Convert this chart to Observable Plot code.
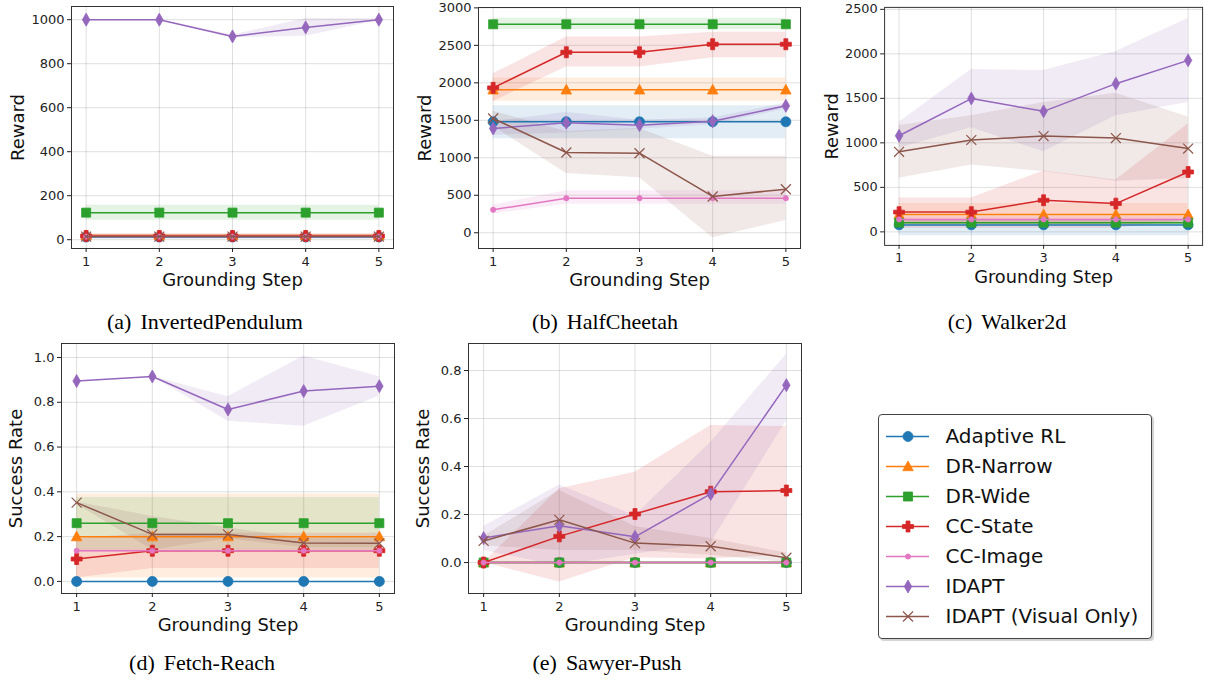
<!DOCTYPE html>
<html><head><meta charset="utf-8">
<script src="https://cdn.jsdelivr.net/npm/d3@7"></script>
<script src="https://cdn.jsdelivr.net/npm/@observablehq/plot@0.6"></script>
<style>
body{margin:0;background:#fff;}
#root{position:relative;width:1210px;height:681px;overflow:hidden;background:#fff;}
.panel{position:absolute;}
.cap{position:absolute;font-family:"Liberation Serif","Times New Roman",serif;font-size:22px;color:#000;transform:translate(-50%,-50%);white-space:nowrap;}
.cap span{margin-right:9px;}
.legend{position:absolute;border:1px solid #444;border-radius:4px;box-shadow:2px 2px 1px rgba(0,0,0,0.18);background:#fff;}
</style></head><body><div id="root"></div>
<script>
// ---------- data ----------
const steps = [1, 2, 3, 4, 5];
const seriesNames = ["Adaptive RL", "DR-Narrow", "DR-Wide", "CC-State", "CC-Image", "IDAPT", "IDAPT (Visual Only)"];
const seriesColors = ["#1f77b4", "#ff7f0e", "#2ca02c", "#d62728", "#e377c2", "#9467bd", "#8c564b"];

// InvertedPendulum (rows follow seriesNames)
const pendulumMean = [[12,12,12,12,12],[19,19,19,19,19],[123,123,123,123,123],[17,17,17,17,17],[14,14,14,14,14],[1000,1000,924,965,1000],[14,14,14,14,14]];
const pendulumLo   = [[2,2,2,2,2],[12,12,12,12,12],[88,88,88,88,88],[8,8,8,8,8],[10,10,10,10,10],[1000,1000,918,925,996],[6,6,6,6,6]];
const pendulumHi   = [[22,22,22,22,22],[26,26,26,26,26],[157,157,157,157,157],[26,26,26,26,26],[18,18,18,18,18],[1000,1000,930,1005,1004],[22,22,22,22,22]];

// HalfCheetah
const cheetahMean = [[1480,1480,1480,1480,1480],[1907,1907,1907,1907,1907],[2781,2781,2781,2781,2781],[1933,2408,2408,2515,2515],[307,461,461,461,461],[1391,1467,1435,1488,1693],[1524,1071,1061,484,581]];
const cheetahLo   = [[1255,1255,1255,1255,1255],[1755,1755,1755,1755,1755],[2710,2710,2710,2710,2710],[1750,2210,2210,2335,2335],[250,380,380,380,380],[1300,1330,1380,1440,1650],[1420,790,733,-67,164]];
const cheetahHi   = [[1695,1695,1695,1695,1695],[2065,2065,2065,2065,2065],[2860,2860,2860,2860,2860],[2120,2610,2610,2675,2675],[370,560,560,560,560],[1480,1605,1500,1530,1730],[1620,1350,1390,1021,1021]];

// Walker2d
const walkerMean = [[78,78,78,78,78],[195,195,195,195,195],[103,103,103,103,103],[222,222,355,318,673],[140,140,140,140,140],[1080,1498,1354,1665,1927],[899,1032,1076,1054,936]];
const walkerLo   = [[-45,-45,-45,-45,-45],[80,80,80,80,80],[80,80,80,80,80],[40,40,40,40,130],[110,110,110,110,110],[940,1170,899,1305,1454],[603,750,677,570,600]];
const walkerHi   = [[140,140,140,140,140],[320,320,320,320,320],[130,130,130,130,130],[381,381,684,584,1213],[170,170,170,170,170],[1232,1824,1813,2027,2397],[1194,1305,1454,1557,1290]];

// Fetch-Reach
const fetchMean = [[0,0,0,0,0],[0.2,0.2,0.2,0.2,0.2],[0.26,0.26,0.26,0.26,0.26],[0.1,0.137,0.137,0.137,0.137],[0.137,0.137,0.137,0.137,0.137],[0.895,0.915,0.768,0.85,0.872],[0.352,0.21,0.21,0.172,0.17]];
const fetchLo   = [[0,0,0,0,0],[0.015,0.015,0.015,0.015,0.015],[0.14,0.14,0.14,0.14,0.14],[0.015,0.058,0.058,0.058,0.058],[0.13,0.13,0.13,0.13,0.13],[0.895,0.915,0.715,0.693,0.828],[0.345,0.14,0.19,0.15,0.15]];
const fetchHi   = [[0,0,0,0,0],[0.39,0.39,0.39,0.39,0.39],[0.375,0.375,0.375,0.375,0.375],[0.19,0.215,0.215,0.215,0.215],[0.145,0.145,0.145,0.145,0.145],[0.895,0.915,0.825,1.007,0.914],[0.355,0.29,0.24,0.19,0.19]];

// Sawyer-Push
const sawyerMean = [[0,0,0,0,0],[0,0,0,0,0],[0,0,0,0,0],[0,0.109,0.202,0.295,0.3],[0,0,0,0,0],[0.102,0.153,0.107,0.286,0.739],[0.09,0.178,0.081,0.068,0.02]];
const sawyerLo   = [[0,0,0,0,0],[0,0,0,0,0],[0,0,0,0,0],[0,-0.081,0.02,0.015,0.03],[0,0,0,0,0],[0.05,-0.014,0.035,0.08,0.59],[0.07,0.05,0.05,0.03,0]];
const sawyerHi   = [[0,0,0,0,0],[0,0,0,0,0],[0,0,0,0,0],[0,0.307,0.376,0.571,0.567],[0,0,0,0,0],[0.15,0.323,0.195,0.5,0.867],[0.11,0.3,0.15,0.1,0.04]];

const rewardTicksA = [0, 200, 400, 600, 800, 1000];
const rewardTicksB = [0, 500, 1000, 1500, 2000, 2500, 3000];
const rewardTicksC = [0, 500, 1000, 1500, 2000, 2500];
const successTicksD = [0, 0.2, 0.4, 0.6, 0.8, 1.0];
const successTicksE = [0, 0.2, 0.4, 0.6, 0.8];

// ---------- marker symbols ----------
const R = s => Math.sqrt(s / Math.PI);
const symCircle = {draw(c, s){const r = R(s); c.moveTo(r, 0); c.arc(0, 0, r, 0, 2 * Math.PI);}};
const symTriangle = {draw(c, s){const r = R(s)*1.05; c.moveTo(0, -r*1.05); c.lineTo(r, r*0.8); c.lineTo(-r, r*0.8); c.closePath();}};
const symSquare = {draw(c, s){const r = R(s)*0.9; c.moveTo(-r, -r); c.lineTo(r, -r); c.lineTo(r, r); c.lineTo(-r, r); c.closePath();}};
const symPlus = {draw(c, s){const r = R(s); const a = r*0.36;
  c.moveTo(-a, -r); c.lineTo(a, -r); c.lineTo(a, -a); c.lineTo(r, -a); c.lineTo(r, a); c.lineTo(a, a);
  c.lineTo(a, r); c.lineTo(-a, r); c.lineTo(-a, a); c.lineTo(-r, a); c.lineTo(-r, -a); c.lineTo(-a, -a); c.closePath();}};
const symDiamond = {draw(c, s){const r = R(s); c.moveTo(0, -r*1.25); c.lineTo(r*0.72, 0); c.lineTo(0, r*1.25); c.lineTo(-r*0.72, 0); c.closePath();}};
const symTimes = {draw(c, s){const r = R(s); c.moveTo(-r, -r); c.lineTo(r, r); c.moveTo(r, -r); c.lineTo(-r, r);}};
const markerSym = [symCircle, symTriangle, symSquare, symPlus, symCircle, symDiamond, symTimes];
const markerR = [5, 5, 5, 5.5, 2.6, 5.2, 5];

function rowsOf(mean, lo, hi){
  const rows = [];
  seriesNames.forEach((name, i) => steps.forEach((st, j) => rows.push({series: name, idx: i, step: st, y: mean[i][j], lo: lo[i][j], hi: hi[i][j]})));
  return rows;
}

const root = document.getElementById("root");
const ML = 72, MR = 8, MT = 8, MB = 62;

function panel({left, top, w, h, yDomain, yTicks, yFmt, ylabel, ylabelDx, mean, lo, hi}){
  const rows = rowsOf(mean, lo, hi);
  const marks = [
    Plot.gridX(steps, {stroke: "#000", strokeOpacity: 0.13}),
    Plot.gridY(yTicks, {stroke: "#000", strokeOpacity: 0.13}),
    Plot.areaY(rows, {x: "step", y1: "lo", y2: "hi", z: "series", fill: "series", fillOpacity: 0.13, curve: "linear"})
  ];
  seriesNames.forEach((name, i) => {
    const d = rows.filter(r => r.idx === i);
    marks.push(Plot.line(d, {x: "step", y: "y", stroke: seriesColors[i], strokeWidth: 1.5}));
    const isX = i === 6;
    marks.push(Plot.dot(d, {x: "step", y: "y", symbol: markerSym[i], r: markerR[i],
      fill: isX ? "none" : seriesColors[i], stroke: seriesColors[i], strokeWidth: isX ? 1.2 : 0.8}));
  });
  marks.push(
    Plot.frame({stroke: "#333", strokeWidth: 1}),
    Plot.axisX(steps, {tickSize: 4, tickPadding: 4, label: null, fontSize: 13, tickFormat: d => String(d)}),
    Plot.axisY(yTicks, {tickSize: 4, tickPadding: 3, label: null, fontSize: 13, tickFormat: yFmt}),
    Plot.text(["Grounding Step"], {frameAnchor: "bottom", lineAnchor: "middle", textAnchor: "middle", dy: 32, fontSize: 18, text: d => d, fill: "#111"}),
    Plot.text([ylabel], {frameAnchor: "left", lineAnchor: "middle", textAnchor: "middle", dx: ylabelDx, rotate: -90, fontSize: 18, text: d => d, fill: "#111"})
  );
  const chart = Plot.plot({
    width: w + ML + MR, height: h + MT + MB,
    marginLeft: ML, marginRight: MR, marginTop: MT, marginBottom: MB,
    style: {fontFamily: "DejaVu Sans", fontSize: "13px", color: "#222", background: "transparent", overflow: "visible"},
    x: {domain: [0.8, 5.2]},
    y: {domain: yDomain},
    color: {domain: seriesNames, range: seriesColors},
    marks
  });
  const div = document.createElement("div");
  div.className = "panel";
  div.style.left = (left - ML) + "px";
  div.style.top = (top - MT) + "px";
  div.appendChild(chart);
  root.appendChild(div);
}

function caption(label, text, cx, cy){
  const d = document.createElement("div");
  d.className = "cap";
  d.style.left = cx + "px"; d.style.top = cy + "px";
  d.innerHTML = `<span>${label}</span>${text}`;
  root.appendChild(d);
}

const fmtInt = d => String(d);
const fmt1 = d => d.toFixed(1);

panel({left: 71, top: 6, w: 322, h: 242, yDomain: [-40, 1060], yTicks: rewardTicksA, yFmt: fmtInt, ylabel: "Reward", ylabelDx: -53, mean: pendulumMean, lo: pendulumLo, hi: pendulumHi});
panel({left: 478, top: 7, w: 322, h: 241, yDomain: [-210, 3005], yTicks: rewardTicksB, yFmt: fmtInt, ylabel: "Reward", ylabelDx: -53, mean: cheetahMean, lo: cheetahLo, hi: cheetahHi});
panel({left: 885, top: 7, w: 322, h: 241, yDomain: [-152, 2522], yTicks: rewardTicksC, yFmt: fmtInt, ylabel: "Reward", ylabelDx: -53, mean: walkerMean, lo: walkerLo, hi: walkerHi});
panel({left: 61, top: 343, w: 333, h: 250, yDomain: [-0.054, 1.0625], yTicks: successTicksD, yFmt: fmt1, ylabel: "Success Rate", ylabelDx: -45, mean: fetchMean, lo: fetchLo, hi: fetchHi});
panel({left: 468, top: 343, w: 333, h: 250, yDomain: [-0.129, 0.9125], yTicks: successTicksE, yFmt: fmt1, ylabel: "Success Rate", ylabelDx: -45, mean: sawyerMean, lo: sawyerLo, hi: sawyerHi});

caption("(a)", "InvertedPendulum", 205, 322);
caption("(b)", "HalfCheetah", 605, 322);
caption("(c)", "Walker2d", 1007, 322);
caption("(d)", "Fetch-Reach", 202, 663);
caption("(e)", "Sawyer-Push", 607, 663);

// ---------- legend ----------
const LW = 272, LH = 223;
const legendPlot = Plot.plot({
  width: LW, height: LH, margin: 0,
  style: {fontFamily: "DejaVu Sans", background: "transparent", overflow: "visible"},
  x: {domain: [0, LW], range: [0, LW], axis: null},
  y: {type: "point", domain: seriesNames, range: [18, 203], padding: 0, axis: null},
  color: {domain: seriesNames, range: seriesColors},
  marks: [
    Plot.ruleY(seriesNames, {y: d => d, x1: 7, x2: 50, stroke: d => d, strokeWidth: 1.5}),
    ...seriesNames.map((name, i) => Plot.dot([name], {x: 28.5, y: d => d, symbol: markerSym[i], r: markerR[i],
      fill: i === 6 ? "none" : seriesColors[i], stroke: seriesColors[i], strokeWidth: i === 6 ? 1.2 : 0.8})),
    Plot.text(seriesNames, {x: 66, y: d => d, text: d => d, textAnchor: "start", fontSize: 20, fill: "#111"})
  ]
});
const leg = document.createElement("div");
leg.className = "legend";
leg.style.left = "878px"; leg.style.top = "414px";
leg.style.width = LW + "px"; leg.style.height = LH + "px";
leg.appendChild(legendPlot);
root.appendChild(leg);
</script>
</body></html>
